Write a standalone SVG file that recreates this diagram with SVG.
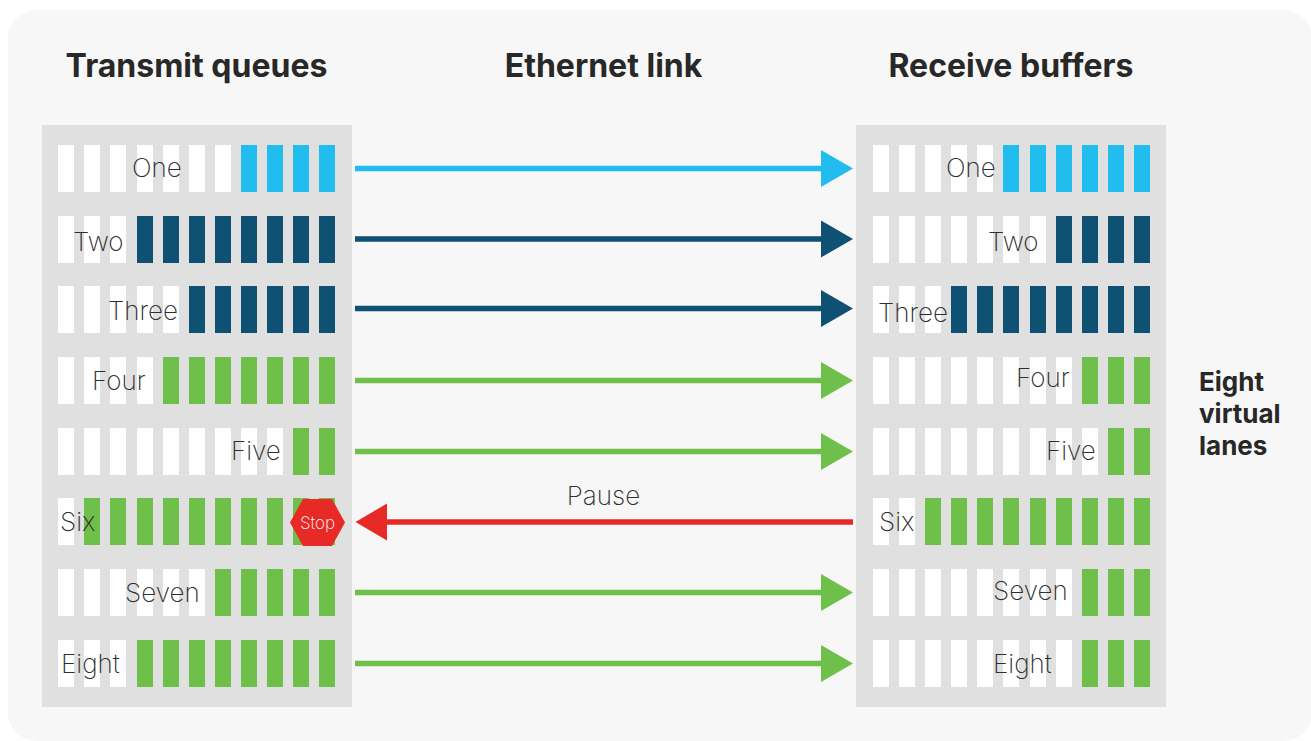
<svg xmlns="http://www.w3.org/2000/svg" width="1311" height="741" viewBox="0 0 1311 741">
<style>
.w{fill:#fff}.c{fill:#22bdef}.d{fill:#0f5173}.g{fill:#6fbf4b}
.p{fill:#e0e0e0}
text{font-family:"Inter","Liberation Sans",sans-serif}
.l{font-size:26px;font-weight:200;fill:#2e2e2e}
.h{font-size:32px;font-weight:700;fill:#282828;text-anchor:middle}
.s{font-size:26px;font-weight:700;fill:#282828}
.ac{stroke:#22bdef;fill:#22bdef}.ad{stroke:#0f5173;fill:#0f5173}.ag{stroke:#6fbf4b;fill:#6fbf4b}.ar{stroke:#e72a26;fill:#e72a26}
#connectors line{stroke-width:5.5}
#connectors polygon{stroke:none}
</style>
<defs>
<rect id="b" width="16" height="47"/>
</defs>
<rect width="1311" height="741" fill="#fff"/>
<rect x="8" y="10" width="1304" height="731" rx="28" fill="#f7f7f7"/>
<g id="headers">
<text class="h" x="196.500" y="77">Transmit queues</text>
<text class="h" x="603.500" y="77">Ethernet link</text>
<text class="h" x="1011" y="77">Receive buffers</text>
</g>
<g id="transmit-queues">
<rect class="p" x="42" y="125" width="310" height="582"/>
<g class="w">
<use href="#b" x="58" y="145"/><use href="#b" x="84" y="145"/><use href="#b" x="110" y="145"/><use href="#b" x="137" y="145"/><use href="#b" x="163" y="145"/><use href="#b" x="189" y="145"/><use href="#b" x="215" y="145"/>
<use href="#b" x="58" y="216"/><use href="#b" x="84" y="216"/><use href="#b" x="110" y="216"/>
<use href="#b" x="58" y="286"/><use href="#b" x="84" y="286"/><use href="#b" x="110" y="286"/><use href="#b" x="137" y="286"/><use href="#b" x="163" y="286"/>
<use href="#b" x="58" y="357"/><use href="#b" x="84" y="357"/><use href="#b" x="110" y="357"/><use href="#b" x="137" y="357"/>
<use href="#b" x="58" y="428"/><use href="#b" x="84" y="428"/><use href="#b" x="110" y="428"/><use href="#b" x="137" y="428"/><use href="#b" x="163" y="428"/><use href="#b" x="189" y="428"/><use href="#b" x="215" y="428"/><use href="#b" x="241" y="428"/><use href="#b" x="267" y="428"/>
<use href="#b" x="58" y="498"/>
<use href="#b" x="58" y="569"/><use href="#b" x="84" y="569"/><use href="#b" x="110" y="569"/><use href="#b" x="137" y="569"/><use href="#b" x="163" y="569"/><use href="#b" x="189" y="569"/>
<use href="#b" x="58" y="640"/><use href="#b" x="84" y="640"/><use href="#b" x="110" y="640"/>
</g>
<g class="c"><use href="#b" x="241" y="145"/><use href="#b" x="267" y="145"/><use href="#b" x="293" y="145"/><use href="#b" x="319" y="145"/></g>
<g class="d">
<use href="#b" x="137" y="216"/><use href="#b" x="163" y="216"/><use href="#b" x="189" y="216"/><use href="#b" x="215" y="216"/><use href="#b" x="241" y="216"/><use href="#b" x="267" y="216"/><use href="#b" x="293" y="216"/><use href="#b" x="319" y="216"/>
<use href="#b" x="189" y="286"/><use href="#b" x="215" y="286"/><use href="#b" x="241" y="286"/><use href="#b" x="267" y="286"/><use href="#b" x="293" y="286"/><use href="#b" x="319" y="286"/>
</g>
<g class="g">
<use href="#b" x="163" y="357"/><use href="#b" x="189" y="357"/><use href="#b" x="215" y="357"/><use href="#b" x="241" y="357"/><use href="#b" x="267" y="357"/><use href="#b" x="293" y="357"/><use href="#b" x="319" y="357"/>
<use href="#b" x="293" y="428"/><use href="#b" x="319" y="428"/>
<use href="#b" x="84" y="498"/><use href="#b" x="110" y="498"/><use href="#b" x="137" y="498"/><use href="#b" x="163" y="498"/><use href="#b" x="189" y="498"/><use href="#b" x="215" y="498"/><use href="#b" x="241" y="498"/><use href="#b" x="267" y="498"/><use href="#b" x="293" y="498"/><use href="#b" x="319" y="498"/>
<use href="#b" x="215" y="569"/><use href="#b" x="241" y="569"/><use href="#b" x="267" y="569"/><use href="#b" x="293" y="569"/><use href="#b" x="319" y="569"/>
<use href="#b" x="137" y="640"/><use href="#b" x="163" y="640"/><use href="#b" x="189" y="640"/><use href="#b" x="215" y="640"/><use href="#b" x="241" y="640"/><use href="#b" x="267" y="640"/><use href="#b" x="293" y="640"/><use href="#b" x="319" y="640"/>
</g>
<text class="l" x="132" y="177">One</text>
<text class="l" x="73" y="251">Two</text>
<text class="l" x="108" y="320">Three</text>
<text class="l" x="92" y="390">Four</text>
<text class="l" x="231" y="460">Five</text>
<text class="l" x="60" y="531">Six</text>
<text class="l" x="125" y="602">Seven</text>
<text class="l" x="61" y="673">Eight</text>
<g id="stop">
<polygon points="290,522.500 303,499 332,499 345,522.500 332,546 303,546" fill="#e72a26"/>
<text x="317.500" y="528.500" font-size="17" font-weight="200" fill="#fff" text-anchor="middle">Stop</text>
</g>
</g>
<g id="receive-buffers">
<rect class="p" x="856" y="125" width="310" height="582"/>
<g class="w">
<use href="#b" x="873" y="145"/><use href="#b" x="899" y="145"/><use href="#b" x="925" y="145"/><use href="#b" x="951" y="145"/><use href="#b" x="977" y="145"/>
<use href="#b" x="873" y="216"/><use href="#b" x="899" y="216"/><use href="#b" x="925" y="216"/><use href="#b" x="951" y="216"/><use href="#b" x="977" y="216"/><use href="#b" x="1003" y="216"/><use href="#b" x="1030" y="216"/>
<use href="#b" x="873" y="286"/><use href="#b" x="899" y="286"/><use href="#b" x="925" y="286"/>
<use href="#b" x="873" y="357"/><use href="#b" x="899" y="357"/><use href="#b" x="925" y="357"/><use href="#b" x="951" y="357"/><use href="#b" x="977" y="357"/><use href="#b" x="1003" y="357"/><use href="#b" x="1030" y="357"/><use href="#b" x="1056" y="357"/>
<use href="#b" x="873" y="428"/><use href="#b" x="899" y="428"/><use href="#b" x="925" y="428"/><use href="#b" x="951" y="428"/><use href="#b" x="977" y="428"/><use href="#b" x="1003" y="428"/><use href="#b" x="1030" y="428"/><use href="#b" x="1056" y="428"/><use href="#b" x="1082" y="428"/>
<use href="#b" x="873" y="498"/><use href="#b" x="899" y="498"/>
<use href="#b" x="873" y="569"/><use href="#b" x="899" y="569"/><use href="#b" x="925" y="569"/><use href="#b" x="951" y="569"/><use href="#b" x="977" y="569"/><use href="#b" x="1003" y="569"/><use href="#b" x="1030" y="569"/><use href="#b" x="1056" y="569"/>
<use href="#b" x="873" y="640"/><use href="#b" x="899" y="640"/><use href="#b" x="925" y="640"/><use href="#b" x="951" y="640"/><use href="#b" x="977" y="640"/><use href="#b" x="1003" y="640"/><use href="#b" x="1030" y="640"/><use href="#b" x="1056" y="640"/>
</g>
<g class="c"><use href="#b" x="1003" y="145"/><use href="#b" x="1030" y="145"/><use href="#b" x="1056" y="145"/><use href="#b" x="1082" y="145"/><use href="#b" x="1108" y="145"/><use href="#b" x="1134" y="145"/></g>
<g class="d">
<use href="#b" x="1056" y="216"/><use href="#b" x="1082" y="216"/><use href="#b" x="1108" y="216"/><use href="#b" x="1134" y="216"/>
<use href="#b" x="951" y="286"/><use href="#b" x="977" y="286"/><use href="#b" x="1003" y="286"/><use href="#b" x="1030" y="286"/><use href="#b" x="1056" y="286"/><use href="#b" x="1082" y="286"/><use href="#b" x="1108" y="286"/><use href="#b" x="1134" y="286"/>
</g>
<g class="g">
<use href="#b" x="1082" y="357"/><use href="#b" x="1108" y="357"/><use href="#b" x="1134" y="357"/>
<use href="#b" x="1108" y="428"/><use href="#b" x="1134" y="428"/>
<use href="#b" x="925" y="498"/><use href="#b" x="951" y="498"/><use href="#b" x="977" y="498"/><use href="#b" x="1003" y="498"/><use href="#b" x="1030" y="498"/><use href="#b" x="1056" y="498"/><use href="#b" x="1082" y="498"/><use href="#b" x="1108" y="498"/><use href="#b" x="1134" y="498"/>
<use href="#b" x="1082" y="569"/><use href="#b" x="1108" y="569"/><use href="#b" x="1134" y="569"/>
<use href="#b" x="1082" y="640"/><use href="#b" x="1108" y="640"/><use href="#b" x="1134" y="640"/>
</g>
<text class="l" x="946" y="177">One</text>
<text class="l" x="988" y="251">Two</text>
<text class="l" x="878" y="322">Three</text>
<text class="l" x="1016" y="387">Four</text>
<text class="l" x="1046" y="460">Five</text>
<text class="l" x="879" y="531">Six</text>
<text class="l" x="993" y="600">Seven</text>
<text class="l" x="993" y="673">Eight</text>
</g>
<g id="connectors">
<line class="ac" x1="355" y1="168.500" x2="825" y2="168.500"/><polygon class="ac" points="821,150 853,168.500 821,187"/>
<line class="ad" x1="355" y1="239" x2="825" y2="239"/><polygon class="ad" points="821,220.500 853,239 821,257.500"/>
<line class="ad" x1="355" y1="308.500" x2="825" y2="308.500"/><polygon class="ad" points="821,290 853,308.500 821,327"/>
<line class="ag" x1="355" y1="380.500" x2="825" y2="380.500"/><polygon class="ag" points="821,362 853,380.500 821,399"/>
<line class="ag" x1="355" y1="451.500" x2="825" y2="451.500"/><polygon class="ag" points="821,433 853,451.500 821,470"/>
<line class="ar" x1="384" y1="522" x2="853" y2="522"/><polygon class="ar" points="387,503.500 355.500,522 387,540.500"/>
<line class="ag" x1="355" y1="592.500" x2="825" y2="592.500"/><polygon class="ag" points="821,574 853,592.500 821,611"/>
<line class="ag" x1="355" y1="663.500" x2="825" y2="663.500"/><polygon class="ag" points="821,645 853,663.500 821,682"/>
</g>
<text class="l" x="603.500" y="505" text-anchor="middle">Pause</text>
<g id="side-label">
<text class="s" x="1199" y="391">Eight</text>
<text class="s" x="1199" y="423">virtual</text>
<text class="s" x="1199" y="455">lanes</text>
</g>
</svg>
